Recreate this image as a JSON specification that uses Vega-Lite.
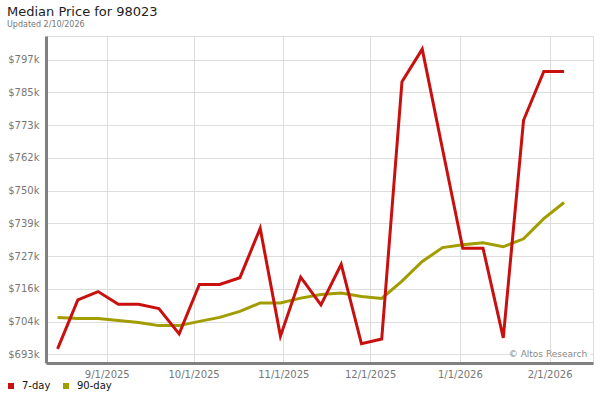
{
  "$schema": "https://vega.github.io/schema/vega-lite/v6.json",
  "width": 547,
  "height": 327,
  "autosize": {"type": "none"},
  "padding": {"left": 46, "top": 36, "right": 7, "bottom": 37},
  "background": "white",
  "config": {
    "font": "DejaVu Sans",
    "view": {"stroke": "#dddddd", "strokeWidth": 1}
  },
  "title": {
    "text": "Median Price for 98023",
    "subtitle": "Updated 2/10/2026",
    "anchor": "start",
    "frame": "group",
    "dx": -39,
    "offset": 7,
    "fontSize": 13,
    "fontWeight": "normal",
    "color": "#222222",
    "subtitleFontSize": 8,
    "subtitleColor": "#777777",
    "subtitlePadding": 2
  },
  "datasets": {
    "prices": [
      {"date": "2025-08-15", "series": "7-day", "value": 694600},
      {"date": "2025-08-22", "series": "7-day", "value": 711900},
      {"date": "2025-08-29", "series": "7-day", "value": 714800},
      {"date": "2025-09-05", "series": "7-day", "value": 710300},
      {"date": "2025-09-12", "series": "7-day", "value": 710300},
      {"date": "2025-09-19", "series": "7-day", "value": 708800},
      {"date": "2025-09-26", "series": "7-day", "value": 699900},
      {"date": "2025-10-03", "series": "7-day", "value": 717300},
      {"date": "2025-10-10", "series": "7-day", "value": 717300},
      {"date": "2025-10-17", "series": "7-day", "value": 719700},
      {"date": "2025-10-24", "series": "7-day", "value": 737100},
      {"date": "2025-10-31", "series": "7-day", "value": 699100},
      {"date": "2025-11-07", "series": "7-day", "value": 719900},
      {"date": "2025-11-14", "series": "7-day", "value": 710100},
      {"date": "2025-11-21", "series": "7-day", "value": 724400},
      {"date": "2025-11-28", "series": "7-day", "value": 696400},
      {"date": "2025-12-05", "series": "7-day", "value": 698100},
      {"date": "2025-12-12", "series": "7-day", "value": 788800},
      {"date": "2025-12-19", "series": "7-day", "value": 800300},
      {"date": "2025-12-26", "series": "7-day", "value": 765100},
      {"date": "2026-01-02", "series": "7-day", "value": 730100},
      {"date": "2026-01-09", "series": "7-day", "value": 730100},
      {"date": "2026-01-16", "series": "7-day", "value": 698500},
      {"date": "2026-01-23", "series": "7-day", "value": 775200},
      {"date": "2026-01-30", "series": "7-day", "value": 792400},
      {"date": "2026-02-06", "series": "7-day", "value": 792400},
      {"date": "2025-08-15", "series": "90-day", "value": 705700},
      {"date": "2025-08-22", "series": "90-day", "value": 705300},
      {"date": "2025-08-29", "series": "90-day", "value": 705300},
      {"date": "2025-09-05", "series": "90-day", "value": 704600},
      {"date": "2025-09-12", "series": "90-day", "value": 703900},
      {"date": "2025-09-19", "series": "90-day", "value": 702800},
      {"date": "2025-09-26", "series": "90-day", "value": 702800},
      {"date": "2025-10-03", "series": "90-day", "value": 704300},
      {"date": "2025-10-10", "series": "90-day", "value": 705700},
      {"date": "2025-10-17", "series": "90-day", "value": 707800},
      {"date": "2025-10-24", "series": "90-day", "value": 710800},
      {"date": "2025-10-31", "series": "90-day", "value": 710800},
      {"date": "2025-11-07", "series": "90-day", "value": 712500},
      {"date": "2025-11-14", "series": "90-day", "value": 713800},
      {"date": "2025-11-21", "series": "90-day", "value": 714300},
      {"date": "2025-11-28", "series": "90-day", "value": 713100},
      {"date": "2025-12-05", "series": "90-day", "value": 712400},
      {"date": "2025-12-12", "series": "90-day", "value": 718500},
      {"date": "2025-12-19", "series": "90-day", "value": 725400},
      {"date": "2025-12-26", "series": "90-day", "value": 730300},
      {"date": "2026-01-02", "series": "90-day", "value": 731300},
      {"date": "2026-01-09", "series": "90-day", "value": 732000},
      {"date": "2026-01-16", "series": "90-day", "value": 730600},
      {"date": "2026-01-23", "series": "90-day", "value": 733400},
      {"date": "2026-01-30", "series": "90-day", "value": 740500},
      {"date": "2026-02-06", "series": "90-day", "value": 746200}
    ]
  },
  "layer": [
    {
      "data": {"values": [{}]},
      "mark": {"type": "rect", "fill": "white"},
      "encoding": {
        "x": {"datum": {"year": 2026, "month": 1, "date": 19, "utc": true}, "type": "temporal", "title": null},
        "x2": {"datum": {"year": 2026, "month": 2, "date": 15, "utc": true}},
        "y": {"datum": 691400, "type": "quantitative", "title": null},
        "y2": {"datum": 694200}
      }
    },
    {
      "data": {"name": "prices"},
      "transform": [{"filter": "datum.series === '90-day'"}],
      "mark": {"type": "line", "strokeWidth": 3},
      "encoding": {
        "x": {
          "field": "date",
          "type": "temporal",
          "title": null,
          "scale": {
            "type": "utc",
            "nice": false,
            "domain": [
              {"year": 2025, "month": 8, "date": 11, "utc": true},
              {"year": 2026, "month": 2, "date": 16, "utc": true}
            ]
          },
          "axis": {
            "values": [
              {"year": 2025, "month": 9, "date": 1, "utc": true},
              {"year": 2025, "month": 10, "date": 1, "utc": true},
              {"year": 2025, "month": 11, "date": 1, "utc": true},
              {"year": 2025, "month": 12, "date": 1, "utc": true},
              {"year": 2026, "month": 1, "date": 1, "utc": true},
              {"year": 2026, "month": 2, "date": 1, "utc": true}
            ],
            "tickCount": 30,
            "labelExpr": "utcFormat(datum.value, '%-m/%-d/%Y')",
            "labelOverlap": false,
            "labelFlush": false,
            "grid": true,
            "gridColor": "#dddddd",
            "ticks": false,
            "domainColor": "#808080",
            "domainWidth": 3,
            "labelColor": "#777777",
            "labelFontSize": 10,
            "labelPadding": 6,
            "labelFont": "DejaVu Sans"
          }
        },
        "y": {
          "field": "value",
          "type": "quantitative",
          "title": null,
          "scale": {"domain": [689620, 804920], "nice": false, "zero": false},
          "axis": {
            "values": [692680, 704220, 715760, 727300, 738840, 750380, 761920, 773460, 785000, 796540],
            "tickCount": 30,
            "labelExpr": "'$' + round(datum.value / 1000) + 'k'",
            "labelOverlap": false,
            "labelFlush": false,
            "grid": true,
            "gridColor": "#dddddd",
            "ticks": false,
            "domainColor": "#808080",
            "domainWidth": 3,
            "labelColor": "#777777",
            "labelFontSize": 10,
            "labelPadding": 7,
            "labelFont": "DejaVu Sans"
          }
        },
        "color": {
          "field": "series",
          "type": "nominal",
          "scale": {"domain": ["7-day", "90-day"], "range": ["#c8100f", "#a19d00"]},
          "legend": {
            "title": null,
            "orient": "none",
            "legendX": -40,
            "legendY": 345,
            "direction": "horizontal",
            "padding": 0,
            "symbolType": "square",
            "symbolSize": 36,
            "symbolStrokeWidth": 0,
            "labelFontSize": 10,
            "labelColor": "#111111",
            "labelFont": "DejaVu Sans",
            "labelOffset": 6,
            "columnPadding": 10,
            "encode": {
              "symbols": {"update": {"fill": {"scale": "color", "field": "value"}, "strokeWidth": {"value": 0}}}
            }
          }
        }
      }
    },
    {
      "data": {"name": "prices"},
      "transform": [{"filter": "datum.series === '7-day'"}],
      "mark": {"type": "line", "strokeWidth": 3},
      "encoding": {
        "x": {"field": "date", "type": "temporal", "title": null},
        "y": {"field": "value", "type": "quantitative", "title": null},
        "color": {"field": "series", "type": "nominal"}
      }
    },
    {
      "data": {"values": [{}]},
      "mark": {"type": "text", "text": "© Altos Research", "align": "right", "baseline": "middle", "fontSize": 9, "color": "#888888", "font": "DejaVu Sans"},
      "encoding": {
        "x": {"datum": {"year": 2026, "month": 2, "date": 14, "utc": true}, "type": "temporal", "title": null},
        "y": {"datum": 692680, "type": "quantitative", "title": null}
      }
    }
  ]
}
